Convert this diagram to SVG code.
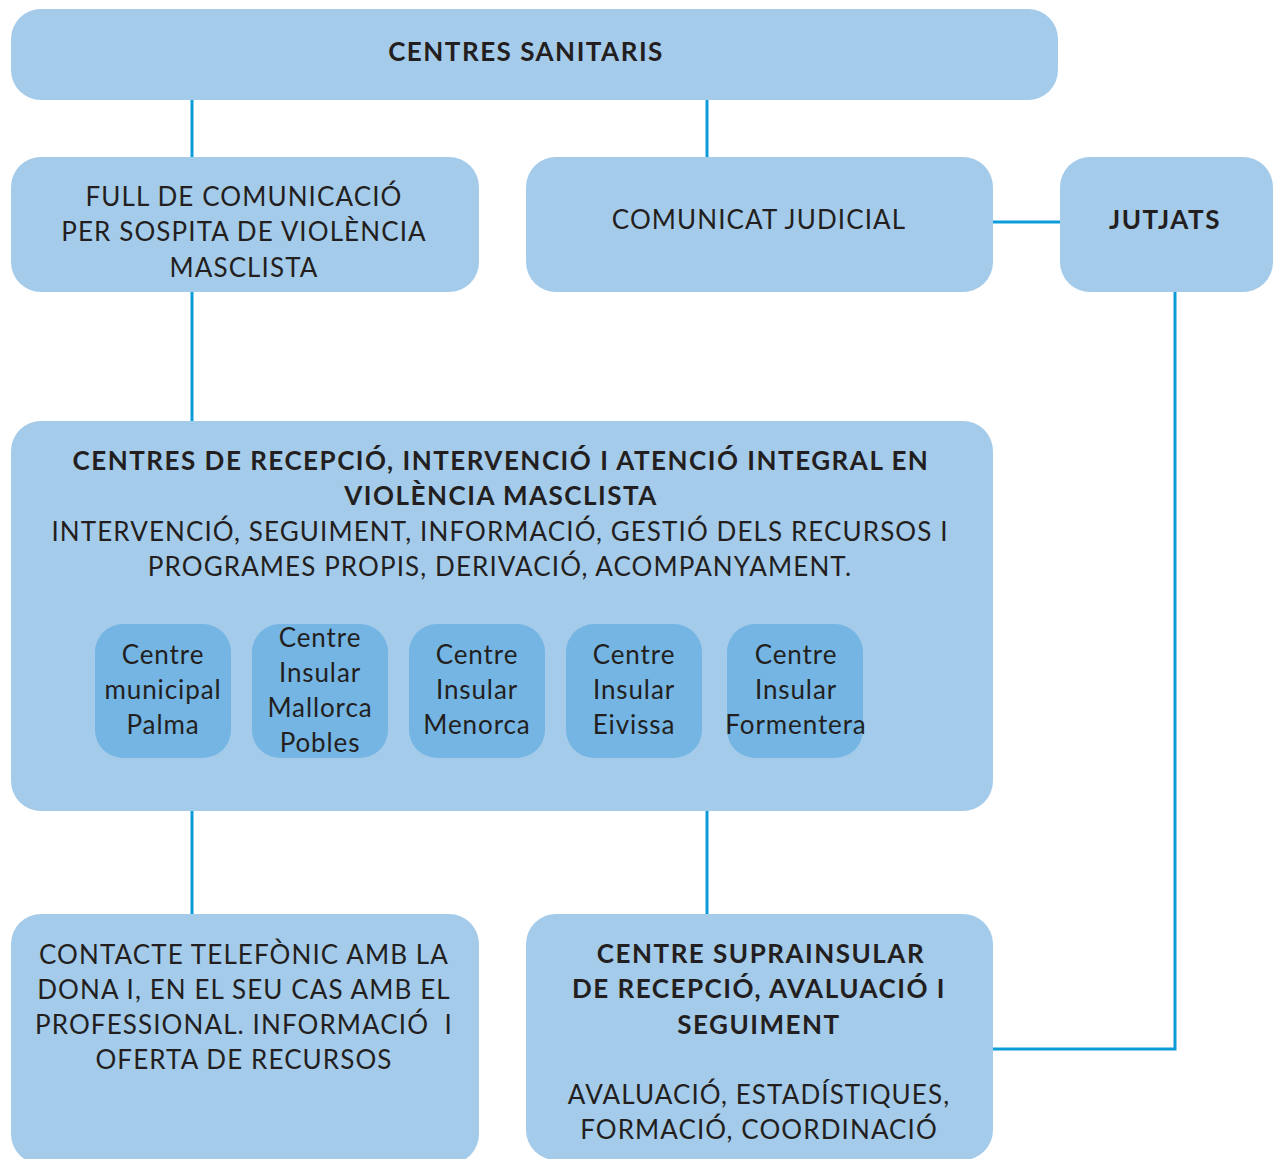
<svg xmlns="http://www.w3.org/2000/svg" width="1281" height="1159" viewBox="0 0 1281 1159">
  <style>
    .box { fill: #a5cbeb; }
    .sub { fill: #74b5e3; }
    .wire { stroke: #0b9bd9; stroke-width: 3; fill: none; }
    text { font-family: Lato, "Open Sans", "Liberation Sans", sans-serif; fill: #231f20; text-anchor: middle; }
    .t { font-size: 26px; letter-spacing: 1.1px; }
    .b { font-size: 26px; font-weight: bold; letter-spacing: 1.5px; }
    .s { font-size: 26px; letter-spacing: 0.9px; }
  </style>

  <!-- connectors -->
  <g id="connectors">
    <line class="wire" x1="192" y1="100" x2="192" y2="158"/>
    <line class="wire" x1="707" y1="100" x2="707" y2="158"/>
    <line class="wire" x1="992" y1="222" x2="1061" y2="222"/>
    <line class="wire" x1="192" y1="291" x2="192" y2="422"/>
    <polyline class="wire" points="1175,291 1175,1049 992,1049"/>
    <line class="wire" x1="192" y1="810" x2="192" y2="915"/>
    <line class="wire" x1="707" y1="810" x2="707" y2="915"/>
  </g>

  <g id="centres-sanitaris">
    <rect class="box" x="11" y="9" width="1047" height="91" rx="30"/>
    <text class="b" x="526" y="61">CENTRES SANITARIS</text>
  </g>

  <g id="full-comunicacio">
    <rect class="box" x="11" y="157" width="468" height="135" rx="30"/>
    <text class="t" x="244" y="206">FULL DE COMUNICACIÓ</text>
    <text class="t" x="244" y="241">PER SOSPITA DE VIOLÈNCIA</text>
    <text class="t" x="244" y="277">MASCLISTA</text>
  </g>

  <g id="comunicat-judicial">
    <rect class="box" x="526" y="157" width="467" height="135" rx="30"/>
    <text class="t" x="759" y="229">COMUNICAT JUDICIAL</text>
  </g>

  <g id="jutjats">
    <rect class="box" x="1060" y="157" width="213" height="135" rx="30"/>
    <text class="b" x="1165" y="229">JUTJATS</text>
  </g>

  <g id="centres-recepcio">
    <rect class="box" x="11" y="421" width="982" height="390" rx="30"/>
    <text class="b" x="501" y="470">CENTRES DE RECEPCIÓ, INTERVENCIÓ I ATENCIÓ INTEGRAL EN</text>
    <text class="b" x="501" y="505">VIOLÈNCIA MASCLISTA</text>
    <text class="t" x="500" y="541">INTERVENCIÓ, SEGUIMENT, INFORMACIÓ, GESTIÓ DELS RECURSOS I</text>
    <text class="t" x="500" y="576">PROGRAMES PROPIS, DERIVACIÓ, ACOMPANYAMENT.</text>
  </g>

  <g id="centre-palma">
    <rect class="sub" x="95" y="624" width="136" height="134" rx="28"/>
    <text class="s" x="163" y="664">Centre</text>
    <text class="s" x="163" y="699">municipal</text>
    <text class="s" x="163" y="734">Palma</text>
  </g>

  <g id="centre-mallorca">
    <rect class="sub" x="252" y="624" width="136" height="134" rx="28"/>
    <text class="s" x="320" y="647">Centre</text>
    <text class="s" x="320" y="682">Insular</text>
    <text class="s" x="320" y="717">Mallorca</text>
    <text class="s" x="320" y="752">Pobles</text>
  </g>

  <g id="centre-menorca">
    <rect class="sub" x="409" y="624" width="136" height="134" rx="28"/>
    <text class="s" x="477" y="664">Centre</text>
    <text class="s" x="477" y="699">Insular</text>
    <text class="s" x="477" y="734">Menorca</text>
  </g>

  <g id="centre-eivissa">
    <rect class="sub" x="566" y="624" width="136" height="134" rx="28"/>
    <text class="s" x="634" y="664">Centre</text>
    <text class="s" x="634" y="699">Insular</text>
    <text class="s" x="634" y="734">Eivissa</text>
  </g>

  <g id="centre-formentera">
    <rect class="sub" x="727" y="624" width="136" height="134" rx="28"/>
    <text class="s" x="796" y="664">Centre</text>
    <text class="s" x="796" y="699">Insular</text>
    <text class="s" x="796" y="734" letter-spacing="0.3">Formentera</text>
  </g>

  <g id="contacte-telefonic">
    <rect class="box" x="11" y="914" width="468" height="250" rx="30"/>
    <text class="t" x="244" y="964">CONTACTE TELEFÒNIC AMB LA</text>
    <text class="t" x="244" y="999">DONA I, EN EL SEU CAS AMB EL</text>
    <text class="t" x="244" y="1034" xml:space="preserve">PROFESSIONAL. INFORMACIÓ  I</text>
    <text class="t" x="244" y="1069">OFERTA DE RECURSOS</text>
  </g>

  <g id="centre-suprainsular">
    <rect class="box" x="526" y="914" width="467" height="246" rx="30"/>
    <text class="b" x="761" y="963">CENTRE SUPRAINSULAR</text>
    <text class="b" x="759" y="998">DE RECEPCIÓ, AVALUACIÓ I</text>
    <text class="b" x="759" y="1034">SEGUIMENT</text>
    <text class="t" x="759" y="1104">AVALUACIÓ, ESTADÍSTIQUES,</text>
    <text class="t" x="759" y="1139">FORMACIÓ, COORDINACIÓ</text>
  </g>
</svg>
